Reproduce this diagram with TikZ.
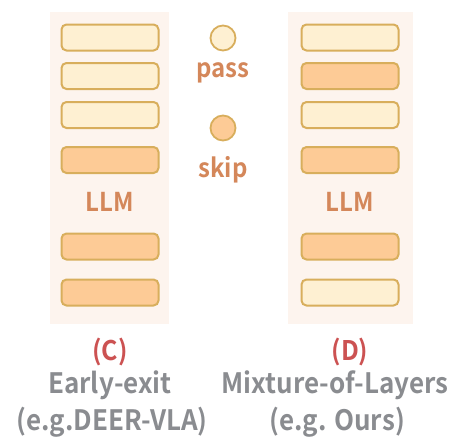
\documentclass[tikz,border=0pt]{standalone}
\usepackage{fontspec}
\usepackage{graphicx}
\setmainfont{Noto Sans CJK SC}[BoldFont={Noto Sans CJK SC Bold}]
\definecolor{panelbg}{HTML}{FDF4EE}
\definecolor{passfill}{HTML}{FEF0D2}
\definecolor{skipfill}{HTML}{FDCB96}
\definecolor{barborder}{HTML}{D8AE5C}
\definecolor{txtorange}{HTML}{D4875A}
\definecolor{txtred}{HTML}{CC5252}
\definecolor{txtgray}{HTML}{8A8C90}
\newcommand{\tallish}[1]{\scalebox{1}[1.08]{#1}}
\begin{document}
\begin{tikzpicture}[x=1pt,y=-1pt,
  panel/.style={fill=panelbg,draw=none},
  passbar/.style={draw=barborder,line width=2pt,fill=passfill,rounded corners=5pt,minimum width=97pt,minimum height=26pt,inner sep=0pt},
  skipbar/.style={passbar,fill=skipfill},
  passdot/.style={circle,draw=barborder,line width=1.8pt,fill=passfill,minimum size=25pt,inner sep=0pt},
  skipdot/.style={passdot,fill=skipfill},
  otext/.style={text=txtorange,font=\fontsize{24}{28}\selectfont\bfseries,inner sep=0pt},
  rtext/.style={text=txtred,font=\fontsize{25}{29}\selectfont\bfseries,inner sep=0pt},
  gtext/.style={text=txtgray,font=\fontsize{26}{30}\selectfont\bfseries,inner sep=0pt}]
\useasboundingbox[fill=white] (0,0) rectangle (457,447);
\fill[panel] (50,12) rectangle (169,324);
\fill[panel] (288,12) rectangle (413,324);
% left column
\node[passbar] (l1) at (110,37.5) {};
\node[passbar] (l2) at (110,76) {};
\node[passbar] (l3) at (110,115) {};
\node[skipbar] (l4) at (110,160) {};
\node[otext] (lllm) at (110,202) {\tallish{LLM}};
\node[skipbar] (l5) at (110,246.5) {};
\node[skipbar] (l6) at (110,292.5) {};
% right column
\node[passbar] (r1) at (350,37.5) {};
\node[skipbar] (r2) at (350,76) {};
\node[passbar] (r3) at (350,115) {};
\node[skipbar] (r4) at (350,160) {};
\node[otext] (rllm) at (350,202) {\tallish{LLM}};
\node[skipbar] (r5) at (350,246.5) {};
\node[passbar] (r6) at (350,292.5) {};
% legend
\node[passdot] (pd) at (223,38) {};
\node[otext] (pt) at (223,73) {\tallish{pass}};
\node[skipdot] (sd) at (223,128) {};
\node[otext] (st) at (223,170) {\tallish{skip}};
% captions
\node[rtext] (c) at (110,352) {\tallish{(C)}};
\node[gtext] (c1) at (110,385) {\tallish{Early-exit}};
\node[gtext] (c2) at (112,422) {\tallish{(e.g.DEER-VLA)}};
\node[rtext] (d) at (350,352) {\tallish{(D)}};
\node[gtext] (d1) at (335,385) {\tallish{Mixture-of-Layers}};
\node[gtext] (d2) at (337,422) {\tallish{(e.g. Ours)}};
\end{tikzpicture}
\end{document}
